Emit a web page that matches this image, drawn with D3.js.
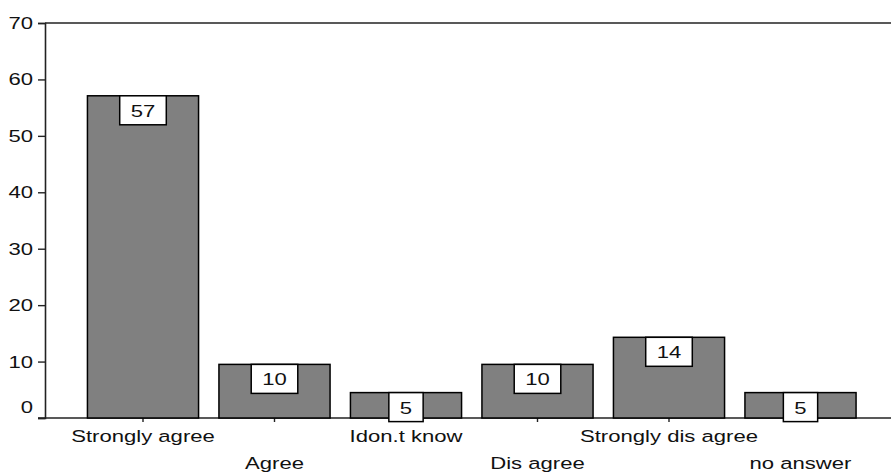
<html>
  <head>
    <meta charset="utf-8">
    <style>
      body { margin: 0; background: #fff; }
      text { font-family: "Liberation Sans", Arial, sans-serif; font-size: 17px; fill: #111; }
      .bar { fill: #808080; stroke: #000; stroke-width: 1.5px; }
      .box { fill: #fff; stroke: #000; stroke-width: 1.5px; }
      .frame { stroke: #222; stroke-width: 1.6px; fill: none; }
    </style>
  </head>
<body>
  <svg width="891" height="474"></svg>
  <script src="https://d3js.org/d3.v7.min.js"></script>
  <script>
    var categories = ["Strongly agree", "Agree", "Idon.t know", "Dis agree", "Strongly dis agree", "no answer"];
    var values = [57.1, 9.5, 4.5, 9.5, 14.3, 4.5];
    var valueLabels = ["57", "10", "5", "10", "14", "5"];
    var yTicks = [0, 10, 20, 30, 40, 50, 60, 70];

    var stretch = 1.3; // text in the picture is wider than normal
    var svg = d3.select("svg");
    var plotLeft = 45, plotTop = 23, plotBottom = 418, plotRight = 891;

    var x = d3.scaleBand()
      .domain(categories)
      .range([77.25, 866.25])
      .paddingInner(0.155)
      .paddingOuter(0.0775);

    var y = d3.scaleLinear()
      .domain([0, 70])
      .range([plotBottom, plotTop]);

    // frame lines
    svg.append("line").attr("class", "frame")
      .attr("x1", plotLeft).attr("x2", plotRight).attr("y1", plotTop).attr("y2", plotTop);
    svg.append("line").attr("class", "frame")
      .attr("x1", 38).attr("x2", plotRight).attr("y1", plotBottom).attr("y2", plotBottom);

    // y axis
    var yAxis = svg.append("g")
      .attr("transform", "translate(" + plotLeft + ",0)")
      .call(d3.axisLeft(y).tickValues(yTicks).tickSize(7).tickPadding(5));
    yAxis.select(".domain").attr("stroke", "#222").attr("stroke-width", 1.6);
    yAxis.selectAll(".tick line").attr("stroke", "#222").attr("stroke-width", 1.4);
    yAxis.selectAll(".tick text")
      .style("font-size", "17px")
      .style("font-family", "'Liberation Sans', Arial, sans-serif")
      .attr("fill", "#111")
      .attr("x", -12 / stretch)
      .attr("transform", "scale(" + stretch + ",1)")
      .attr("dy", function(d) { return d === 0 ? "-0.3em" : "0.32em"; });

    // x axis ticks
    var xAxis = svg.append("g")
      .attr("transform", "translate(0," + plotBottom + ")")
      .call(d3.axisBottom(x).tickSize(4).tickFormat(""));
    xAxis.select(".domain").remove();
    xAxis.selectAll(".tick line").attr("stroke", "#222").attr("stroke-width", 1.4);

    // x labels, staggered on two rows
    svg.selectAll(".xlab")
      .data(categories)
      .enter().append("g")
        .attr("transform", function(d, i) {
          return "translate(" + (x(d) + x.bandwidth() / 2) + "," + (i % 2 === 0 ? 442 : 469) + ")";
        })
      .append("text")
        .attr("text-anchor", "middle")
        .attr("transform", "scale(" + stretch + ",1)")
        .text(function(d) { return d; });

    // bars
    svg.selectAll(".bar")
      .data(values)
      .enter().append("rect")
        .attr("class", "bar")
        .attr("x", function(d, i) { return x(categories[i]); })
        .attr("width", x.bandwidth())
        .attr("y", function(d) { return y(d); })
        .attr("height", function(d) { return y(0) - y(d); });

    // value boxes
    var lab = svg.selectAll(".lab")
      .data(values)
      .enter().append("g")
        .attr("transform", function(d, i) {
          return "translate(" + (x(categories[i]) + x.bandwidth() / 2) + "," + y(d) + ")";
        });
    lab.append("rect").attr("class", "box");
    lab.append("text")
      .attr("text-anchor", "middle")
      .attr("y", 21)
      .attr("transform", "scale(" + stretch + ",1)")
      .text(function(d, i) { return valueLabels[i]; });
    lab.each(function() {
      var g = d3.select(this);
      var w = g.select("text").node().getComputedTextLength() * stretch + 22;
      g.select("rect").attr("x", -w / 2).attr("y", 0).attr("width", w).attr("height", 29);
    });
  </script>
</body>
</html>
